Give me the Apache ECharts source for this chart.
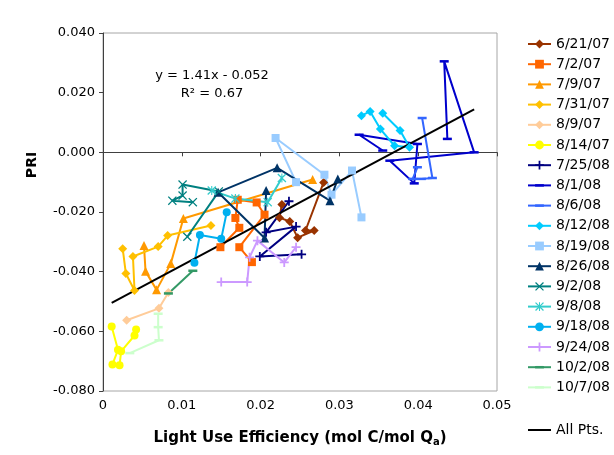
<!DOCTYPE html>
<html>
<head>
<meta charset="utf-8">
<script src="https://cdn.jsdelivr.net/npm/echarts@6/dist/echarts.min.js"></script>
<style>
  html, body { margin: 0; padding: 0; background: #fff; }
  #chart { width: 614px; height: 455px; }
</style>
</head>
<body>
<div id="chart"></div>
<script>
// Light use efficiency (x) vs. PRI (y), one trajectory per measurement date
const d062107 = [[0.0227,-0.0175],[0.0224,-0.0219],[0.0237,-0.0232],[0.0247,-0.0286],[0.0268,-0.0262],[0.0257,-0.0262],[0.0280,-0.0101]];
const d070207 = [[0.0149,-0.0318],[0.0173,-0.0253],[0.0168,-0.0220],[0.0171,-0.0159],[0.0195,-0.0168],[0.0205,-0.0209],[0.0173,-0.0318],[0.0189,-0.0368]];
const d070907 = [[0.0052,-0.0312],[0.0054,-0.0399],[0.0068,-0.0461],[0.0086,-0.0373],[0.0102,-0.0222],[0.0266,-0.0091]];
const d073107 = [[0.0025,-0.0323],[0.0029,-0.0406],[0.0040,-0.0463],[0.0038,-0.0349],[0.0070,-0.0316],[0.0082,-0.0279],[0.0137,-0.0245]];
const d080907 = [[0.0030,-0.0563],[0.0071,-0.0523],[0.0083,-0.0470]];
const d081407 = [[0.0011,-0.0584],[0.0019,-0.0662],[0.0012,-0.0711],[0.0021,-0.0714],[0.0023,-0.0667],[0.0040,-0.0614],[0.0042,-0.0594]];
const d072508 = [[0.0236,-0.0164],[0.0207,-0.0268],[0.0245,-0.0249],[0.0199,-0.0349],[0.0252,-0.0342]];
const d080108 = [[0.0355,0.0006],[0.0325,0.0059],[0.0399,0.0028],[0.0395,-0.0104],[0.0364,-0.0028],[0.0471,0.0000],[0.0433,0.0305],[0.0437,0.0045]];
const d080608 = [[0.0399,-0.0050],[0.0393,-0.0089],[0.0404,-0.0089],[0.0418,-0.0086],[0.0405,0.0115]];
const d081208 = [[0.0328,0.0123],[0.0339,0.0137],[0.0352,0.0078],[0.0370,0.0022],[0.0389,0.0017],[0.0377,0.0073],[0.0355,0.0131]];
const d081908 = [[0.0245,-0.0100],[0.0219,0.0048],[0.0281,-0.0075],[0.0290,-0.0142],[0.0316,-0.0061],[0.0328,-0.0218]];
const d082608 = [[0.0207,-0.0128],[0.0205,-0.0287],[0.0146,-0.0134],[0.0221,-0.0052],[0.0288,-0.0162],[0.0298,-0.0089]];
const d090208 = [[0.0114,-0.0167],[0.0088,-0.0162],[0.0101,-0.0145],[0.0101,-0.0108],[0.0147,-0.0131],[0.0107,-0.0283]];
const d090808 = [[0.0138,-0.0128],[0.0168,-0.0155],[0.0209,-0.0167],[0.0227,-0.0086]];
const d091808 = [[0.0116,-0.0370],[0.0123,-0.0277],[0.0150,-0.0290],[0.0157,-0.0201]];
const d092408 = [[0.0150,-0.0435],[0.0183,-0.0435],[0.0186,-0.0352],[0.0196,-0.0296],[0.0230,-0.0369],[0.0245,-0.0318]];
const d100208 = [[0.0083,-0.0473],[0.0114,-0.0397]];
const d100708 = [[0.0070,-0.0541],[0.0070,-0.0586],[0.0071,-0.0630],[0.0034,-0.0673]];

// Linear fit through all points
const fitSlope = 1.41;
const fitIntercept = -0.052;
const fitR2 = 0.67;
const fitRange = [0.0011, 0.0471];

const xTicks = { min: 0, max: 0.05, step: 0.01 };
const yTicks = { min: -0.08, max: 0.04, step: 0.02 };

// marker shapes not built into ECharts; the leading moves keep a square
// bounding box so the dash keeps its proportions inside the legend too
const PLUS = 'path://M4,0h2v4h4v2h-4v4h-2v-4h-4v-2h4z';
const CROSS = 'path://M1,0L5,4L9,0L10,1L6,5L10,9L9,10L5,6L1,10L0,9L4,5L0,1Z';
const STAR = 'path://M1,0L5,4L9,0L10,1L6,5L10,9L9,10L5,6L1,10L0,9L4,5L0,1Z M4.4,0h1.2v10h-1.2z';
const DASH = 'path://M0,0M10,10M0,3.6h10v2.8h-10z';
const NONE = 'path://M0,0M1,1';

const seriesDefs = [
  { name: '6/21/07', data: d062107, color: '#993300', symbol: 'diamond', size: 9 },
  { name: '7/2/07',  data: d070207, color: '#FF6600', symbol: 'rect', size: 8 },
  { name: '7/9/07',  data: d070907, color: '#FF9900', symbol: 'triangle', size: 9 },
  { name: '7/31/07', data: d073107, color: '#FFC000', symbol: 'diamond', size: 9 },
  { name: '8/9/07',  data: d080907, color: '#FFCC99', symbol: 'diamond', size: 9 },
  { name: '8/14/07', data: d081407, color: '#FFFF00', symbol: 'circle', size: 8 },
  { name: '7/25/08', data: d072508, color: '#000080', symbol: PLUS, size: 9 },
  { name: '8/1/08',  data: d080108, color: '#0000CC', symbol: DASH, size: 9 },
  { name: '8/6/08',  data: d080608, color: '#3366FF', symbol: DASH, size: 9 },
  { name: '8/12/08', data: d081208, color: '#00CCFF', symbol: 'diamond', size: 9 },
  { name: '8/19/08', data: d081908, color: '#99CCFF', symbol: 'rect', size: 8 },
  { name: '8/26/08', data: d082608, color: '#003366', symbol: 'triangle', size: 9 },
  { name: '9/2/08',  data: d090208, color: '#008080', symbol: CROSS, size: 9 },
  { name: '9/8/08',  data: d090808, color: '#33CCCC', symbol: STAR, size: 9 },
  { name: '9/18/08', data: d091808, color: '#00B0F0', symbol: 'circle', size: 8 },
  { name: '9/24/08', data: d092408, color: '#CC99FF', symbol: PLUS, size: 9 },
  { name: '10/2/08', data: d100208, color: '#339966', symbol: DASH, size: 9 },
  { name: '10/7/08', data: d100708, color: '#CCFFCC', symbol: DASH, size: 9 }
];

const fitLine = fitRange.map(x => [x, fitSlope * x + fitIntercept]);
const FONT = 'DejaVu Sans, Verdana, sans-serif';

const series = seriesDefs.map(s => ({
  name: s.name,
  type: 'line',
  data: s.data,
  symbol: s.symbol,
  symbolSize: s.size,
  showSymbol: true,
  itemStyle: { color: s.color },
  lineStyle: { color: s.color, width: 2 },
  emphasis: { disabled: true }
}));
series.push({
  name: 'All Pts.',
  type: 'line',
  data: fitLine,
  symbol: NONE,
  showSymbol: false,
  itemStyle: { color: '#000' },
  lineStyle: { color: '#000', width: 2 },
  emphasis: { disabled: true }
});

const legendCommon = {
  orient: 'vertical', left: 527, padding: 0,
  itemWidth: 23, itemHeight: 11, itemGap: 6.2,
  textStyle: { fontSize: 14, fontFamily: FONT, color: '#000', padding: [1, 0, 0, 0] },
  selectedMode: false
};

const chart = echarts.init(document.getElementById('chart'), null, { renderer: 'canvas' });
chart.setOption({
  animation: false,
  backgroundColor: '#fff',
  textStyle: { fontFamily: FONT },
  grid: { left: 103, top: 33, width: 394, height: 358, show: true, borderColor: '#A6A6A6', borderWidth: 1 },
  xAxis: {
    type: 'value', min: xTicks.min, max: xTicks.max, interval: xTicks.step,
    axisLine: { show: true, lineStyle: { color: '#404040', width: 1 } },
    axisTick: { show: true, inside: false, length: 4, lineStyle: { color: '#404040' } },
    splitLine: { show: false },
    axisLabel: { color: '#000', fontSize: 13, fontFamily: FONT, margin: 8,
      formatter: v => (Math.abs(v) < 1e-9 ? '0' : v.toFixed(2)) },
    name: '{t|Light Use Efficiency (mol C/mol Q}{s|a}{t|)}',
    nameLocation: 'middle', nameGap: 38,
    nameTextStyle: { rich: {
      t: { fontSize: 15, fontWeight: 'bold', fontFamily: FONT, color: '#000' },
      s: { fontSize: 10, fontWeight: 'bold', fontFamily: FONT, color: '#000', padding: [8, 0, 0, 0] }
    } }
  },
  yAxis: {
    type: 'value', min: yTicks.min, max: yTicks.max, interval: yTicks.step,
    axisLine: { show: true, lineStyle: { color: '#404040', width: 1 } },
    axisTick: { show: true, inside: false, length: 4, lineStyle: { color: '#404040' } },
    splitLine: { show: false },
    axisLabel: { color: '#000', fontSize: 13, fontFamily: FONT, margin: 8,
      formatter: v => (Math.abs(v) < 1e-9 ? '0.000' : v.toFixed(3)) }
  },
  legend: [
    Object.assign({}, legendCommon, { top: 37, data: seriesDefs.map(s => s.name) }),
    Object.assign({}, legendCommon, { top: 423, data: ['All Pts.'] })
  ],
  graphic: [
    { type: 'text', x: 32, y: 165, rotation: Math.PI / 2,
      style: { text: 'PRI', font: 'bold 14px ' + FONT, fill: '#000', align: 'center', verticalAlign: 'middle' } },
    { type: 'text', x: 212, y: 76,
      style: { text: 'y = ' + fitSlope.toFixed(2) + 'x - ' + Math.abs(fitIntercept).toFixed(3),
        font: '13px ' + FONT, fill: '#000', align: 'center', verticalAlign: 'middle' } },
    { type: 'text', x: 212, y: 94,
      style: { text: 'R\u00B2 = ' + fitR2.toFixed(2),
        font: '13px ' + FONT, fill: '#000', align: 'center', verticalAlign: 'middle' } }
  ],
  series: series
});
</script>
</body>
</html>
